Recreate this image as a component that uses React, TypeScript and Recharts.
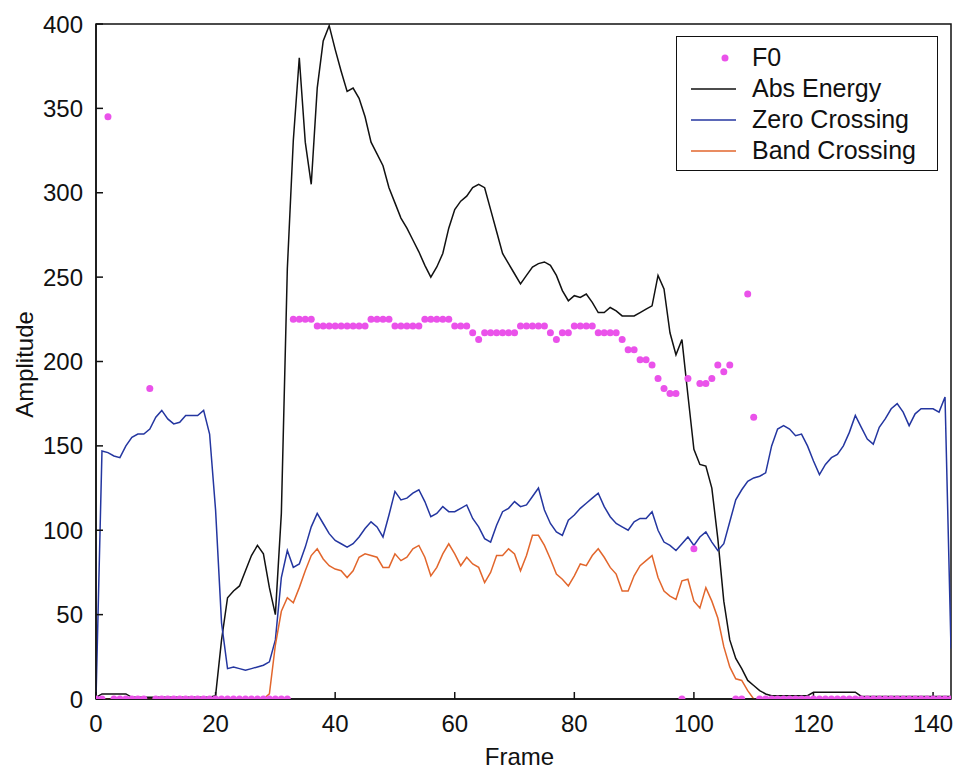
import React from 'react';
import { ComposedChart, Line, XAxis, YAxis, Legend, ReferenceArea, Label } from 'recharts';

// ---- data (frame index 0..143) ----
const seriesNames = ['F0', 'Abs Energy', 'Zero Crossing', 'Band Crossing'];

const absEnergy = [
  1, 3, 3, 3, 3, 3, 1, 1, 1, 1,
  1, 1, 1, 1, 1, 1, 1, 1, 1, 1,
  2, 35, 60, 64, 67, 76, 85, 91, 86, 66,
  50, 110, 255, 331, 380, 330, 305, 362, 390, 399,
  385, 372, 360, 362, 356, 345, 330, 323, 316, 303,
  294, 285, 279, 272, 265, 257, 250, 256, 264, 279,
  290, 295, 298, 303, 305, 303, 290, 277, 264, 258,
  252, 246, 251, 256, 258, 259, 257, 251, 242, 236,
  239, 238, 240, 235, 229, 229, 232, 230, 227, 227,
  227, 229, 231, 233, 251, 243, 217, 204, 213, 180,
  148, 139, 138, 125, 95, 58, 35, 24, 18, 11,
  8, 5, 3, 2, 2, 2, 2, 2, 2, 2,
  4, 4, 4, 4, 4, 4, 4, 4, 1.5, 1.5,
  1.5, 1.5, 1.5, 1.5, 1.5, 1.5, 1.5, 1.5, 1.5, 1.5,
  1.5, 1.5, 1.5, 1.5,
];

const zeroCrossing = [
  0, 147, 146, 144, 143, 150, 155, 157, 157, 160,
  167, 171, 166, 163, 164, 168, 168, 168, 171, 157,
  112, 45, 18, 19, 18, 17, 18, 19, 20, 22,
  35, 72, 88, 78, 80, 90, 102, 110, 104, 98,
  94, 92, 90, 92, 96, 101, 105, 102, 96, 109,
  123, 118, 119, 122, 124, 117, 108, 110, 114, 111,
  111, 113, 115, 107, 102, 95, 93, 103, 111, 113,
  117, 114, 115, 120, 125, 112, 104, 99, 97, 106,
  109, 113, 116, 119, 122, 114, 108, 104, 102, 100,
  105, 107, 107, 111, 100, 93, 91, 88, 92, 96,
  91, 96, 99, 93, 88, 92, 105, 118, 124, 129,
  131, 132, 134, 150, 160, 162, 160, 156, 157, 150,
  141, 133, 139, 143, 145, 150, 158, 168, 161, 154,
  151, 161, 166, 172, 175, 170, 162, 169, 172, 172,
  172, 170, 179, 30,
];

const bandCrossing = [
  0, 0, 0, 0, 0, 0, 0, 0, 0, 0,
  0, 0, 0, 0, 0, 0, 0, 0, 0, 0,
  0, 0, 0, 0, 0, 0, 0, 0, 0, 3,
  32, 52, 60, 57, 66, 76, 85, 89, 83, 79,
  77, 76, 72, 76, 84, 86, 85, 84, 78, 78,
  86, 82, 84, 89, 91, 84, 73, 78, 86, 92,
  86, 79, 84, 80, 78, 69, 75, 85, 85, 89,
  86, 76, 85, 97, 97, 91, 83, 74, 71, 67,
  73, 80, 79, 85, 89, 84, 78, 74, 64, 64,
  73, 79, 82, 85, 72, 64, 61, 59, 70, 71,
  58, 54, 66, 58, 48, 31, 19, 12, 11, 5,
  0, 0, 0, 0, 0, 0, 0, 0, 0, 0,
  0, 0, 0, 0, 0, 0, 0, 0, 0, 0,
  0, 0, 0, 0, 0, 0, 0, 0, 0, 0,
  0, 0, 0, 0,
];

const f0 = [
  0, 0, 345, 0, 0, 0, 0, 0, 0, 184,
  0, 0, 0, 0, 0, 0, 0, 0, 0, 0,
  0, 0, 0, 0, 0, 0, 0, 0, 0, 0,
  0, 0, 0, 225, 225, 225, 225, 221, 221, 221,
  221, 221, 221, 221, 221, 221, 225, 225, 225, 225,
  221, 221, 221, 221, 221, 225, 225, 225, 225, 225,
  221, 221, 221, 217, 213, 217, 217, 217, 217, 217,
  217, 221, 221, 221, 221, 221, 217, 213, 217, 217,
  221, 221, 221, 221, 217, 217, 217, 217, 213, 207,
  207, 201, 201, 198, 190, 184, 181, 181, 0, 190,
  89, 187, 187, 190, 198, 194, 198, 0, 0, 240,
  167, 0, 0, 0, 0, 0, 0, 0, 0, 0,
  0, 0, 0, 0, 0, 0, 0, 0, 0, 0,
  0, 0, 0, 0, 0, 0, 0, 0, 0, 0,
  0, 0, 0, 0,
];

const xTicks = [0, 20, 40, 60, 80, 100, 120, 140];
const yTicks = [0, 50, 100, 150, 200, 250, 300, 350, 400];

const data = absEnergy.map((v, i) => ({
  frame: i,
  abs: v,
  zero: zeroCrossing[i],
  band: bandCrossing[i],
  f0: f0[i],
}));

// ---- styles ----
const FONT = '"Liberation Sans", Arial, sans-serif';
const INK = '#111111';
const MAGENTA = '#ea52ea';
const BLACK = '#111111';
const BLUE = '#2436a0';
const ORANGE = '#e2662c';

const XLabel = (props: any) => {
  const vb = props.viewBox || {};
  return (
    <text x={vb.x + vb.width / 2 - 4} y={vb.y + 66} textAnchor="middle" fontSize={24} fill={INK} fontFamily={FONT}>
      Frame
    </text>
  );
};

const YLabel = (props: any) => {
  const vb = props.viewBox || {};
  const cx = vb.x + 24;
  const cy = vb.y + vb.height / 2 + 3;
  return (
    <text x={cx} y={cy} textAnchor="middle" dominantBaseline="central" fontSize={24} fill={INK} fontFamily={FONT}
      transform={`rotate(-90, ${cx}, ${cy})`}>
      Amplitude
    </text>
  );
};

const LegendBox = (props: any) => {
  const payload = props.payload || [];
  const ordered = seriesNames
    .map((n) => payload.find((p: any) => p.value === n))
    .filter(Boolean);
  return (
    <div style={{
      width: 262, height: 135, boxSizing: 'border-box', border: `1.5px solid ${INK}`,
      background: '#fff', paddingTop: 5, fontFamily: FONT,
    }}>
      {ordered.map((e: any) => (
        <div key={e.value} style={{ height: 31, display: 'flex', alignItems: 'center' }}>
          <svg width={60} height={12} style={{ marginLeft: 12, display: 'block' }}>
            {e.type === 'circle'
              ? <circle cx={36} cy={6} r={3.5} fill={e.color} />
              : <line x1={2} x2={47} y1={6} y2={6} stroke={e.color} strokeWidth={1.5} />}
          </svg>
          <span style={{ marginLeft: 3, fontSize: 25, color: INK, lineHeight: '31px' }}>{e.value}</span>
        </div>
      ))}
    </div>
  );
};

export default function App() {
  return (
    <div style={{ position: 'absolute', left: 0, top: 0, width: 956, height: 769, background: '#fff', fontFamily: FONT }}>
      <ComposedChart width={956} height={769} data={data} margin={{ top: 24, right: 5, bottom: 0, left: 0 }}>
        <XAxis
          dataKey="frame" type="number" domain={[0, 143]} ticks={xTicks} interval={0} allowDataOverflow
          height={70} tickSize={-7} tickMargin={23}
          axisLine={{ stroke: INK, strokeWidth: 1.5 }} tickLine={{ stroke: INK, strokeWidth: 1.5 }}
          tick={{ fill: INK, fontSize: 24, fontFamily: FONT }}
        >
          <Label content={<XLabel />} />
        </XAxis>
        <YAxis
          type="number" domain={[0, 400]} ticks={yTicks} interval={0} allowDataOverflow
          width={96} tickSize={-7} tickMargin={20}
          axisLine={{ stroke: INK, strokeWidth: 1.5 }} tickLine={{ stroke: INK, strokeWidth: 1.5 }}
          tick={{ fill: INK, fontSize: 24, fontFamily: FONT }}
        >
          <Label content={<YLabel />} />
        </YAxis>
        <ReferenceArea x1={0} x2={143} y1={0} y2={400} fill="none" stroke={INK} strokeWidth={1.5} ifOverflow="visible" />
        <Line name="Abs Energy" dataKey="abs" type="linear" stroke={BLACK} strokeWidth={1.5} dot={false} isAnimationActive={false} />
        <Line name="Zero Crossing" dataKey="zero" type="linear" stroke={BLUE} strokeWidth={1.5} dot={false} isAnimationActive={false} />
        <Line name="Band Crossing" dataKey="band" type="linear" stroke={ORANGE} strokeWidth={1.5} dot={false} isAnimationActive={false} />
        <Line name="F0" dataKey="f0" type="linear" stroke={MAGENTA} strokeOpacity={0} strokeWidth={0}
          dot={{ r: 3.5, fill: MAGENTA, stroke: 'none' }} activeDot={false} legendType="circle" isAnimationActive={false} />
        <Legend
          layout="vertical" align="center" verticalAlign="middle"
          content={<LegendBox />}
          wrapperStyle={{ left: 676, top: 36, width: 262, height: 135 }}
        />
      </ComposedChart>
    </div>
  );
}
